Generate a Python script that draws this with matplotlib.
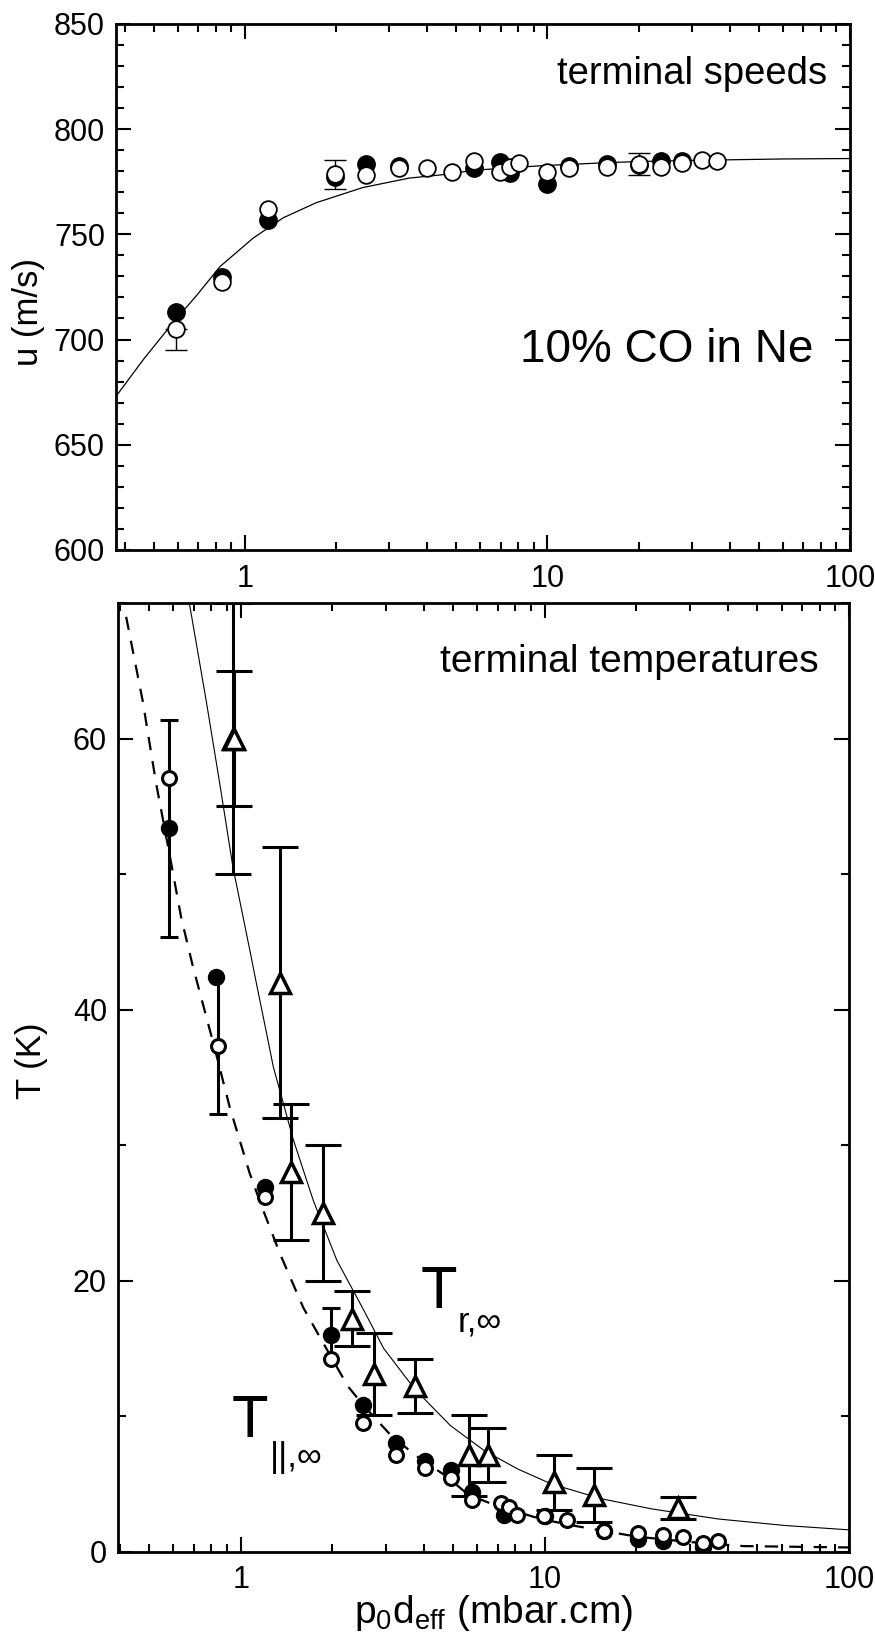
import matplotlib.pyplot as plt
from matplotlib.ticker import LogLocator, MultipleLocator, NullFormatter

plt.rcParams['font.family'] = ['Liberation Sans', 'DejaVu Sans']
plt.rcParams['mathtext.default'] = 'regular'

# ---- top panel: terminal speeds u (m/s) vs p0*d_eff ----
u_filled_x = [0.59, 0.838, 1.19, 1.98, 2.51, 3.22, 5.71, 6.99, 7.54, 9.96, 11.8, 15.7, 20.1, 23.8, 27.9]
u_filled_y = [713, 729.5, 757, 777, 783.4, 782.6, 781.5, 784.2, 779, 774, 782.5, 783.5, 783, 785, 785]

u_open_x = [0.59, 0.838, 1.19, 1.98, 2.51, 3.22, 4.01, 4.82, 5.71, 6.99, 7.54, 8.03,
            9.96, 11.8, 15.7, 20.1, 23.8, 27.9, 32.4, 36.3]
u_open_y = [705, 727.5, 762, 778.5, 778, 781.5, 781.5, 779.4, 785, 779.4, 782, 783.7,
            779.5, 781.6, 782, 783.4, 782, 783.8, 785.5, 784.6]

# error bars on open circles (lower, upper); upper of the first one hidden in the marker
u_err_x = [0.59, 1.98, 20.1]
u_err_y = [705, 778.5, 783.4]
u_err_lo = [10, 7, 5]
u_err_hi = [0, 7, 5]

u_fit_x = [0.375, 0.463, 0.581, 0.694, 0.828, 1.065, 1.337, 1.72, 2.45, 3.49, 4.49, 5.78,
           9.58, 15, 20, 36, 60, 100]
u_fit_y = [673, 690.7, 708.3, 721.1, 734.7, 748.2, 757.8, 765, 772.2, 776.7, 778.3, 780.5,
           782.6, 783.9, 784.6, 785.3, 785.8, 786]

# ---- bottom panel: terminal temperatures T (K) ----
tpar_filled_x = [0.583, 0.831, 1.2, 1.98, 2.53, 3.25, 4.05, 4.9, 5.77, 7.33, 10.0, 15.7, 20.3, 24.5, 33]
tpar_filled_y = [53.4, 42.4, 26.9, 16.0, 10.8, 8.0, 6.7, 6.0, 4.4, 2.7, 2.6, 1.5, 0.9, 0.8, 0.3]

tpar_open_x = [0.583, 0.844, 1.2, 1.98, 2.53, 3.25, 4.05, 4.9, 5.77, 7.16, 7.62, 8.1,
               9.9, 11.8, 15.7, 20.3, 24.5, 28.4, 33, 37]
tpar_open_y = [57.1, 37.3, 26.2, 14.2, 9.5, 7.1, 6.2, 5.4, 3.8, 3.6, 3.3, 2.7,
               2.6, 2.3, 1.5, 1.4, 1.2, 1.1, 0.66, 0.8]

# T_parallel error bars: bar ends, and which caps are visible (others sit under a marker)
tpar_err_x = [0.583, 0.844, 1.98]
tpar_err_lo = [45.4, 32.3, 14.2]
tpar_err_hi = [61.4, 42.4, 18.0]
tpar_cap_lo = [True, True, False]
tpar_cap_hi = [True, False, True]

trot_x = [0.94, 0.95, 1.345, 1.46, 1.87, 2.33, 2.75, 3.73, 5.64, 6.5, 10.7, 14.5, 27.5]
trot_y = [60, 60, 42, 28, 25, 17.2, 13.1, 12.2, 7.1, 7.1, 5.1, 4.2, 3.2]
trot_err = [10, 5, 10, 5, 5, 2, 3, 2, 3, 2, 2, 2, 0.8]

tpar_fit_x = [0.42, 0.476, 0.527, 0.583, 0.637, 0.696, 0.77, 0.82, 0.92, 1.071, 1.185, 1.345,
              1.606, 1.823, 2.25, 2.53, 3.08, 3.75, 4.71, 5.6, 6.9, 9.7, 12.5, 20, 30, 45, 100]
tpar_fit_y = [69, 62.8, 56.7, 51.5, 46.8, 43.2, 39.5, 37.2, 32.8, 27.9, 25.2, 22.0,
              18.0, 15.8, 12.2, 10.8, 8.7, 7.1, 5.6, 4.2, 3.4, 2.4, 1.9, 1.1, 0.7, 0.4, 0.3]

trot_fit_x = [0.679, 0.77, 0.853, 0.943, 1.071, 1.127, 1.215, 1.279, 1.489, 1.733, 2.07, 2.54,
              2.95, 3.73, 4.89, 6.31, 8.13, 10.47, 15.3, 22.4, 37.2, 61.7, 100]
trot_fit_y = [69.9, 62.8, 56.7, 50.5, 44.4, 41.9, 38.3, 35.8, 30.4, 25.9, 21.5, 17.8,
              15.0, 12.0, 9.3, 7.46, 6.1, 5.0, 3.9, 3.15, 2.4, 1.92, 1.6]


def style_axes(ax, xmin):
    for s in ax.spines.values():
        s.set_linewidth(2)
    ax.set_xscale('log')
    ax.set_xlim(xmin, 100)
    ax.set_xticks([1, 10, 100], ['1', '10', '100'])
    ax.xaxis.set_minor_locator(LogLocator(base=10, subs=range(2, 10)))
    ax.xaxis.set_minor_formatter(NullFormatter())
    ax.tick_params(which='both', direction='in', top=True, right=True, width=1.5, labelsize=22)
    ax.tick_params(which='major', length=11)
    ax.tick_params(which='minor', length=6)
    ax.tick_params(axis='x', pad=10)
    ax.tick_params(axis='y', pad=8)


fig = plt.figure(figsize=(8.75, 16.46), dpi=100)
ax1 = fig.add_axes([0.1326, 0.6659, 0.8389, 0.3196])
ax2 = fig.add_axes([0.1349, 0.0574, 0.8354, 0.5761])

# top panel
style_axes(ax1, 0.375)
ax1.set_ylim(600, 850)
ax1.yaxis.set_major_locator(MultipleLocator(50))
ax1.yaxis.set_minor_locator(MultipleLocator(10))
ax1.plot(u_fit_x, u_fit_y, color='black', lw=0.9, zorder=2)
ax1.errorbar(u_err_x, u_err_y, yerr=[u_err_lo, u_err_hi], fmt='none', ecolor='black',
             elinewidth=1, capsize=8, capthick=1, zorder=2)
ax1.plot(u_filled_x, u_filled_y, 'o', ms=12.5, mfc='black', mec='black', zorder=3)
ax1.plot(u_open_x, u_open_y, 'o', ms=12, mfc='white', mec='black', mew=1.3, zorder=4)
ax1.set_ylabel('u (m/s)', fontsize=25)
ax1.yaxis.set_label_coords(-0.097, 0.453)
ax1.text(0.969, 0.886, 'terminal speeds', transform=ax1.transAxes, ha='right',
         va='baseline', fontsize=27.5)
ax1.text(0.9496, 0.3565, '10% CO in Ne', transform=ax1.transAxes, ha='right',
         va='baseline', fontsize=33)

# bottom panel
style_axes(ax2, 0.395)
ax2.set_ylim(0, 70)
ax2.yaxis.set_major_locator(MultipleLocator(20))
ax2.yaxis.set_minor_locator(MultipleLocator(10))
ax2.plot(trot_fit_x, trot_fit_y, color='black', lw=0.8, zorder=2)
ax2.plot(tpar_fit_x, tpar_fit_y, color='black', lw=1.6, dashes=(6, 5), zorder=2)
ax2.errorbar(trot_x, trot_y, yerr=trot_err, fmt='none', ecolor='black', elinewidth=2.2,
             capsize=13, capthick=2.2, zorder=3)
ax2.vlines(tpar_err_x, tpar_err_lo, tpar_err_hi, color='black', lw=2.2, zorder=3)
cap_x = [x for x, c in zip(tpar_err_x, tpar_cap_lo) if c] + \
        [x for x, c in zip(tpar_err_x, tpar_cap_hi) if c]
cap_y = [y for y, c in zip(tpar_err_lo, tpar_cap_lo) if c] + \
        [y for y, c in zip(tpar_err_hi, tpar_cap_hi) if c]
ax2.plot(cap_x, cap_y, '_', ms=13, mew=2.2, color='black', zorder=3)
ax2.plot(tpar_filled_x, tpar_filled_y, 'o', ms=11.5, mfc='black', mec='black', zorder=4)
ax2.plot(tpar_open_x, tpar_open_y, 'o', ms=10, mfc='white', mec='black', mew=2.2, zorder=5)
ax2.plot(trot_x, trot_y, '^', ms=14.5, mfc='white', mec='black', mew=2.5, zorder=6)

ax2.set_ylabel('T (K)', fontsize=25)
ax2.yaxis.set_label_coords(-0.096, 0.518)
ax2.set_xlabel('p$_0$d$_{eff}$ (mbar.cm)', fontsize=28)
ax2.xaxis.set_label_coords(0.513, -0.0438)
ax2.text(0.959, 0.9276, 'terminal temperatures', transform=ax2.transAxes, ha='right',
         va='baseline', fontsize=28)

ax2.text(0.414, 0.2568, 'T', transform=ax2.transAxes, ha='left', va='baseline', fontsize=43)
ax2.text(0.465, 0.2315, 'r,\u221e', transform=ax2.transAxes, ha='left', va='baseline', fontsize=25)
ax2.text(0.155, 0.1208, 'T', transform=ax2.transAxes, ha='left', va='baseline', fontsize=43)
ax2.text(0.208, 0.0891, '||,\u221e', transform=ax2.transAxes, ha='left', va='baseline', fontsize=25)

fig.savefig('out.png', dpi=100)
